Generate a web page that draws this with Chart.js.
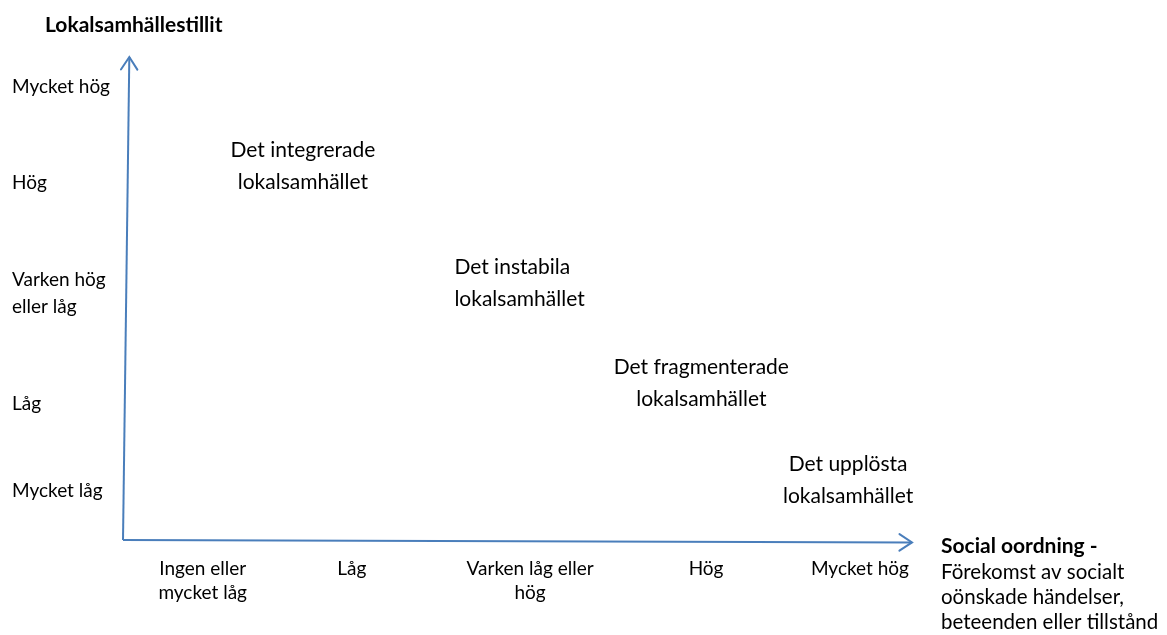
<!DOCTYPE html>
<html>
<head>
<meta charset="utf-8">
<script src="https://cdn.jsdelivr.net/npm/chart.js@4.4.0/dist/chart.umd.min.js"></script>
<style>
  html, body { margin: 0; padding: 0; background: #fff; }
  #wrap { width: 1167px; height: 635px; }
</style>
</head>
<body>
<div id="wrap"><canvas id="chart"></canvas></div>
<script>
// tick labels and where they sit on the 0..10 axes
const yLabels = ['Mycket hög', 'Hög', ['Varken hög', 'eller låg'], 'Låg', 'Mycket låg'];
const yLabelPos = [9.38, 7.39, 5.10, 2.82, 1.01];
const xLabels = [['Ingen eller', 'mycket låg'], 'Låg', ['Varken låg eller', 'hög'], 'Hög', 'Mycket hög'];
const xLabelPos = [1.01, 2.90, 5.16, 7.39, 9.34];

// the four community types
const typeNames = [
  ['Det integrerade', 'lokalsamhället'],
  ['Det instabila', 'lokalsamhället'],
  ['Det fragmenterade', 'lokalsamhället'],
  ['Det upplösta', 'lokalsamhället']
];
const typeX = [2.28, 4.20, 7.33, 9.19];
const typeY = [7.73, 5.32, 3.24, 1.24];
const typeAlign = ['center', 'left', 'center', 'center'];

// axis arrows (slightly skewed like the original drawing)
const yAxisLine = [{ x: 0, y: 0 }, { x: 0.08, y: 10 }];
const xAxisLine = [{ x: 0, y: 0 }, { x: 10, y: -0.05 }];

const yTitle = 'Lokalsamhällestillit';
const xTitle = 'Social oordning -';
const xTitleSub = ['Förekomst av socialt', 'oönskade händelser,', 'beteenden eller tillstånd'];

const FONT = 'Lato, "Open Sans", sans-serif';
const AXIS_BLUE = '#4a7ebb';

const arrowHeads = {
  id: 'arrowHeads',
  afterDatasetsDraw(chart) {
    const ctx = chart.ctx;
    chart.data.datasets.forEach((ds, i) => {
      if (!ds.isAxis) return;
      const pts = chart.getDatasetMeta(i).data;
      const a = pts[pts.length - 2], b = pts[pts.length - 1];
      const ang = Math.atan2(b.y - a.y, b.x - a.x);
      const len = 15, spread = 0.58;
      ctx.save();
      ctx.strokeStyle = AXIS_BLUE;
      ctx.lineWidth = 2;
      ctx.lineCap = 'round';
      ctx.beginPath();
      ctx.moveTo(b.x - len * Math.cos(ang - spread), b.y - len * Math.sin(ang - spread));
      ctx.lineTo(b.x, b.y);
      ctx.lineTo(b.x - len * Math.cos(ang + spread), b.y - len * Math.sin(ang + spread));
      ctx.stroke();
      ctx.restore();
    });
  }
};

const typeLabels = {
  id: 'typeLabels',
  afterDatasetsDraw(chart) {
    const ctx = chart.ctx;
    const pts = chart.getDatasetMeta(0).data;
    const lh = 32;
    ctx.save();
    ctx.fillStyle = '#000';
    ctx.font = '21px ' + FONT;
    ctx.textBaseline = 'middle';
    pts.forEach((p, i) => {
      ctx.textAlign = typeAlign[i];
      const lines = typeNames[i];
      lines.forEach((t, j) => {
        ctx.fillText(t, p.x, p.y + (j - (lines.length - 1) / 2) * lh);
      });
    });
    ctx.restore();
  }
};

const axisTitles = {
  id: 'axisTitles',
  afterDraw(chart) {
    const ctx = chart.ctx;
    const { bottom, right } = chart.chartArea;
    ctx.save();
    ctx.fillStyle = '#000';
    ctx.textBaseline = 'middle';
    ctx.textAlign = 'left';
    ctx.font = 'bold 21px ' + FONT;
    ctx.fillText(yTitle, 45, 25);
    ctx.fillText(xTitle, right + 29, bottom + 6);
    ctx.font = '20.5px ' + FONT;
    xTitleSub.forEach((t, j) => ctx.fillText(t, right + 29, bottom + 32 + j * 25));
    ctx.restore();
  }
};

new Chart(document.getElementById('chart'), {
  type: 'scatter',
  data: {
    datasets: [
      {
        label: 'typer',
        data: typeX.map((x, i) => ({ x, y: typeY[i] })),
        pointRadius: 0,
        pointHoverRadius: 0
      },
      {
        label: 'y-axel',
        isAxis: true,
        data: yAxisLine,
        showLine: true,
        borderColor: AXIS_BLUE,
        borderWidth: 2,
        pointRadius: 0,
        clip: false
      },
      {
        label: 'x-axel',
        isAxis: true,
        data: xAxisLine,
        showLine: true,
        borderColor: AXIS_BLUE,
        borderWidth: 2,
        pointRadius: 0,
        clip: false
      }
    ]
  },
  options: {
    responsive: true,
    maintainAspectRatio: false,
    animation: false,
    events: [],
    layout: { padding: { left: 12, right: 255, top: 57, bottom: 0 } },
    plugins: {
      legend: { display: false },
      tooltip: { enabled: false }
    },
    scales: {
      x: {
        type: 'linear',
        min: 0,
        max: 10,
        position: 'bottom',
        grid: { display: false, drawTicks: false },
        border: { display: false },
        afterFit(scale) { scale.height = 95; },
        afterBuildTicks(scale) { scale.ticks = xLabelPos.map(v => ({ value: v })); },
        ticks: {
          autoSkip: false,
          maxRotation: 0,
          minRotation: 0,
          padding: 17,
          color: '#000',
          font: { family: FONT, size: 19, lineHeight: 1.26 },
          callback: (v, i) => xLabels[i]
        }
      },
      y: {
        type: 'linear',
        min: 0,
        max: 10,
        position: 'left',
        grid: { display: false, drawTicks: false },
        border: { display: false },
        afterFit(scale) { scale.width = 111; },
        afterBuildTicks(scale) { scale.ticks = yLabelPos.map(v => ({ value: v })); },
        ticks: {
          autoSkip: false,
          crossAlign: 'far',
          color: '#000',
          font: { family: FONT, size: 19, lineHeight: 1.42 },
          callback: (v, i) => yLabels[i]
        }
      }
    }
  },
  plugins: [arrowHeads, typeLabels, axisTitles]
});
</script>
</body>
</html>
